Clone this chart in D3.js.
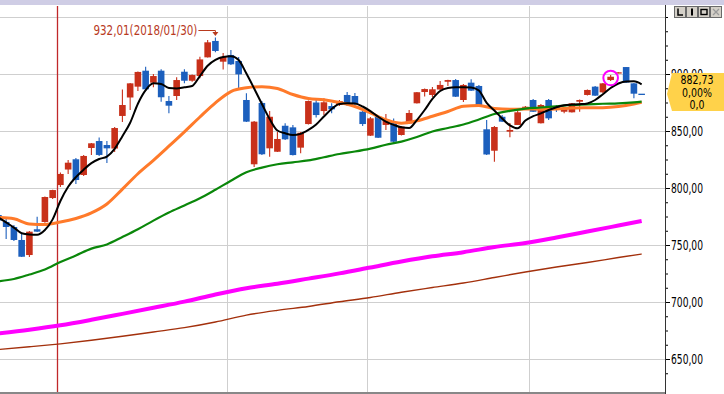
<!DOCTYPE html>
<html lang="ko">
<head>
<meta charset="UTF-8">
<title>KOSDAQ 일봉</title>
<style>
  html, body { margin: 0; padding: 0; background: #fff; }
  svg { display: block; }
  text { font-family: "Liberation Sans Narrow", "DejaVu Sans Condensed", "Liberation Sans", Arial, sans-serif; }
</style>
</head>
<body>
<svg id="svg"></svg>
<script src="https://d3js.org/d3.v7.min.js"></script>
<script>
// 거래일 (2017/12/18 ~ 2018/04/20)
const dates = [
  "2017/12/18","2017/12/19","2017/12/20","2017/12/21","2017/12/22","2017/12/26","2017/12/27","2017/12/28",
  "2018/01/02","2018/01/03","2018/01/04","2018/01/05","2018/01/08","2018/01/09","2018/01/10","2018/01/11",
  "2018/01/12","2018/01/15","2018/01/16","2018/01/17","2018/01/18","2018/01/19","2018/01/22","2018/01/23",
  "2018/01/24","2018/01/25","2018/01/26","2018/01/29","2018/01/30","2018/01/31",
  "2018/02/01","2018/02/02","2018/02/05","2018/02/06","2018/02/07","2018/02/08","2018/02/09","2018/02/12",
  "2018/02/13","2018/02/14","2018/02/19","2018/02/20","2018/02/21","2018/02/22","2018/02/23","2018/02/26",
  "2018/02/27","2018/02/28",
  "2018/03/02","2018/03/05","2018/03/06","2018/03/07","2018/03/08","2018/03/09","2018/03/12","2018/03/13",
  "2018/03/14","2018/03/15","2018/03/16","2018/03/19","2018/03/20","2018/03/21","2018/03/22","2018/03/23",
  "2018/03/26","2018/03/27","2018/03/28","2018/03/29","2018/03/30",
  "2018/04/02","2018/04/03","2018/04/04","2018/04/05","2018/04/06","2018/04/09","2018/04/10","2018/04/11",
  "2018/04/12","2018/04/13","2018/04/16","2018/04/17","2018/04/18","2018/04/19","2018/04/20"
];

// 시가 / 고가 / 저가 / 종가
const open = [
  776.3,770.2,765.8,754.4,741.2,763.8,770.2,791.2,802.6,816.2,825.2,811.4,835.1,841.2,837.7,834.6,
  863.2,879.4,888.9,902.9,892.4,902.9,876.3,880.7,902.0,894.1,898.2,914.6,929.0,910.8,
  916.7,911.4,877.2,820.8,874.6,834.8,831.8,854.6,853.2,835.4,856.1,875.0,867.5,871.9,872.8,881.6,880.7,866.9,
  845.9,862.5,855.3,856.8,846.5,856.6,874.3,884.2,881.6,886.4,893.2,894.7,877.2,892.4,889.5,851.5,832.7,
  862.5,849.4,855.3,869.3,
  877.2,856.8,877.2,871.3,866.9,866.4,875.7,881.6,888.9,883.9,894.7,900.6,906.1,891.8,882.73
];
const high = [
  777.5,773.7,767.5,759.6,762.3,774.8,792.5,798.5,813.6,824.6,826.3,829.0,839.5,844.3,841.2,853.5,
  886.4,892.1,902.2,906.4,900.0,904.1,880.7,897.1,904.1,899.6,915.2,929.8,932.01,918.4,
  921.0,915.0,883.1,858.8,876.3,867.5,849.1,856.8,855.3,849.1,876.8,878.7,878.7,874.3,877.2,884.2,883.3,868.4,
  862.3,864.0,864.9,861.0,854.4,868.4,884.2,887.3,888.6,893.9,894.9,895.6,891.2,895.4,890.4,859.6,854.4,
  864.0,857.0,867.5,871.9,
  878.0,873.7,878.0,872.8,869.7,874.6,877.6,886.4,889.5,892.1,899.1,901.5,906.1,892.1,882.73
];
const low = [
  770.5,755.3,753.5,739.5,739.5,761.4,769.5,790.4,800.9,812.3,803.5,810.5,829.0,828.0,821.9,831.6,
  857.9,868.4,885.1,885.4,888.3,875.7,865.5,877.2,891.8,893.2,896.3,914.5,919.0,904.0,
  907.9,887.5,857.9,818.4,828.9,827.5,831.6,842.1,828.5,830.4,855.7,861.8,864.0,865.5,871.9,871.9,872.8,854.4,
  845.6,843.9,850.9,840.4,846.1,856.1,874.1,880.3,879.8,885.9,889.5,879.8,875.4,885.1,871.1,828.9,823.1,
  857.9,844.5,855.3,868.4,
  866.7,856.6,859.6,866.7,865.5,866.2,866.9,881.1,880.7,883.3,893.9,900.6,892.1,878.7,882.73
];
const close = [
  771.5,765.8,754.4,739.7,761.7,761.7,792.1,798.2,812.3,822.2,807.0,828.1,839.2,829.0,834.8,852.6,
  872.8,891.8,901.8,886.6,898.2,879.6,872.2,894.7,894.1,899.1,912.8,927.8,920.2,915.0,
  908.5,899.7,858.2,858.2,829.6,862.5,843.0,842.7,828.9,848.5,876.3,864.0,875.2,869.0,876.3,873.7,873.7,856.1,
  861.1,844.1,860.5,840.6,853.8,865.8,884.0,886.8,886.6,890.4,894.7,880.1,890.4,885.4,871.9,829.4,853.5,
  858.2,850.9,866.4,871.3,
  866.9,872.8,861.1,868.4,869.3,874.3,877.2,886.0,881.0,891.8,897.6,901.5,892.5,882.73,882.73
];

// 이동평균 5일 (일자별)
const ma5 = [
  774.1,769.8,765.3,760.3,759.2,759.0,763.2,772.5,788.6,801.1,
  809.5,816.1,821.8,825.4,827.6,834.4,845.4,857.2,873.9,885.8,
  891.8,891.2,887.7,887.3,888.4,889.5,898.2,907.2,912.3,914.9,
  915.5,912.3,900.4,887.3,873.7,860.5,850.4,848.0,846.5,847.5,
  850.9,855.7,862.7,869.3,873.7,874.3,874.1,871.5,867.5,862.5,
  858.3,855.4,853.2,852.6,859.6,868.4,878.1,885.1,887.8,888.3,
  888.3,888.2,885.5,874.6,868.0,861.0,855.0,852.4,859.2,863.0,
  865.4,868.4,870.9,872.6,873.2,873.5,874.2,877.2,882.3,887.7,
  891.7,893.5,893.6,891.0
];
// 이동평균 20/60/120/240일: [일자 번호, 값]
const ma20 = [
  [0,774.1],[2,773.0],[4,768.5],[6,768.0],[8,770.1],[10,773.3],[12,778.2],[14,786.0],[16,799.0],
  [18,812.5],[20,824.3],[22,836.7],[24,849.3],[26,862.3],[28,874.7],[30,884.6],[32,887.9],[34,888.9],
  [36,887.3],[38,882.0],[40,878.5],[42,877.4],[44,875.0],[46,871.5],[48,865.9],[50,859.9],[52,856.8],
  [54,858.9],[56,862.9],[58,867.1],[60,871.7],[62,872.4],[64,869.7],[66,869.0],[68,869.3],[70,869.1],
  [72,869.3],[74,870.2],[76,870.4],[78,870.5],[80,871.5],[82,873.7],[83,875.2]
];
const ma60 = [
  [0,718.2],[2,720.2],[4,724.1],[6,728.5],[8,735.1],[10,740.8],[12,746.8],[14,750.5],[16,757.0],
  [18,763.8],[20,771.4],[22,778.5],[24,784.7],[26,791.0],[28,798.5],[30,806.4],[32,813.8],[34,817.9],
  [36,820.8],[38,822.5],[40,824.2],[42,827.0],[44,829.8],[46,832.0],[48,834.6],[50,837.9],[52,840.7],
  [54,844.7],[56,849.6],[58,852.6],[60,855.7],[62,860.1],[64,864.9],[66,867.7],[68,869.7],[70,870.6],
  [72,871.7],[74,872.8],[76,873.3],[78,873.9],[80,874.3],[82,875.1],[83,875.7]
];
const ma120 = [
  [0,672.4],[4,675.7],[8,679.6],[12,684.4],[16,689.6],[20,694.9],[24,700.3],[28,706.6],[32,712.1],
  [36,716.0],[40,720.5],[44,725.1],[48,730.3],[52,735.5],[56,740.1],[60,743.7],[64,748.2],[68,751.8],
  [72,756.6],[76,761.8],[80,767.1],[83,771.1]
];
const ma240 = [
  [0,658.3],[4,660.7],[8,663.3],[12,666.4],[16,669.9],[20,673.7],[24,677.5],[28,682.5],[32,688.5],
  [36,692.7],[40,696.1],[44,700.2],[48,704.0],[52,708.6],[56,712.7],[60,716.7],[64,721.5],[68,726.3],
  [72,730.7],[76,734.6],[80,739.0],[83,742.1]
];

// 눈금
const gridValues = [650, 700, 750, 800, 850, 900, 950];
const labelValues = [650, 700, 750, 800, 850, 900];
const markedDate = "2018/04/16";

const width = 724, height = 394;
const plot = {left: 0, right: 665, top: 5, bottom: 393};
const upColor = "#c8301a", downColor = "#1c5fbd";

const svg = d3.select("#svg").attr("width", width).attr("height", height)
  .attr("viewBox", `0 0 ${width} ${height}`);

svg.append("rect").attr("width", width).attr("height", height).attr("fill", "#fff");

const N = dates.length;
const x = d3.scalePoint().domain(dates).range([-1.6, -1.6 + (N - 1) * 7.75]);
const y = d3.scaleLinear().domain([650, 950]).range([359, 17]);

svg.append("clipPath").attr("id", "clip").append("rect")
  .attr("x", plot.left).attr("y", plot.top)
  .attr("width", plot.right - plot.left).attr("height", plot.bottom - plot.top);

const main = svg.append("g").attr("clip-path", "url(#clip)");

// 가로 격자
main.append("g").selectAll("line").data(gridValues).join("line")
  .attr("x1", plot.left).attr("x2", plot.right)
  .attr("y1", d => Math.round(y(d)) + 0.5).attr("y2", d => Math.round(y(d)) + 0.5)
  .attr("stroke", "#cfcfcf");

// 월 구분선 / 연도 구분선
const breaks = [];
for (let i = 1; i < N; i++) {
  const a = dates[i - 1], b = dates[i];
  if (a.slice(0, 7) !== b.slice(0, 7)) {
    breaks.push({pos: (x(a) + x(b)) / 2, year: a.slice(0, 4) !== b.slice(0, 4)});
  }
}
main.append("g").selectAll("line").data(breaks).join("line")
  .attr("x1", d => Math.round(d.pos) + 0.5).attr("x2", d => Math.round(d.pos) + 0.5)
  .attr("y1", plot.top + 1).attr("y2", plot.bottom)
  .attr("stroke", d => d.year ? "#c0282a" : "#cfcfcf")
  .attr("stroke-width", d => d.year ? 1.3 : 1);

// 캔들
const candles = dates.map((d, i) => ({date: d, o: open[i], h: high[i], l: low[i], c: close[i]}));
const cg = main.append("g").selectAll("g").data(candles).join("g")
  .attr("fill", d => d.c > d.o ? upColor : downColor)
  .attr("stroke", d => d.c > d.o ? upColor : downColor);
cg.append("line")
  .attr("x1", d => x(d.date)).attr("x2", d => x(d.date))
  .attr("y1", d => y(d.h)).attr("y2", d => y(d.l))
  .attr("stroke-width", 1.1);
cg.append("rect")
  .attr("x", d => x(d.date) - 3.3)
  .attr("width", 6.6)
  .attr("y", d => y(Math.max(d.o, d.c)))
  .attr("height", d => Math.max(1.3, Math.abs(y(d.o) - y(d.c))))
  .attr("stroke", "none");

// 이동평균선
const linePts = d3.line().x(d => x(dates[d[0]])).y(d => y(d[1])).curve(d3.curveMonotoneX);
const maLines = [
  {pts: ma240, color: "#a3300c", w: 1.4},
  {pts: ma120, color: "#ff00ff", w: 4},
  {pts: ma20, color: "#ff7a2a", w: 3},
  {pts: ma60, color: "#0a870a", w: 2.2},
  {pts: ma5.map((v, i) => [i, v]), color: "#000", w: 2}
];
main.append("g").selectAll("path").data(maLines).join("path")
  .attr("d", d => linePts(d.pts))
  .attr("fill", "none")
  .attr("stroke", d => d.color)
  .attr("stroke-width", d => d.w)
  .attr("stroke-linejoin", "round");

// 표시된 캔들 원
const mi = dates.indexOf(markedDate);
main.append("circle")
  .attr("cx", x(markedDate)).attr("cy", y((high[mi] + low[mi]) / 2))
  .attr("r", 7.3).attr("fill", "none").attr("stroke", "#ff00ff").attr("stroke-width", 2);

// 최고가 표시
const hi = d3.maxIndex(high);
const hx = x(dates[hi]), hy = y(high[hi]);
const fmt = d3.formatLocale({decimal: ",", thousands: ".", grouping: [3], currency: ["", ""]});
const f2 = fmt.format(".2f"), f1 = fmt.format(".1f");
const annoColor = "#b83a1e";
main.append("text")
  .attr("x", hx - 18).attr("y", hy - 2.5)
  .attr("text-anchor", "end")
  .attr("font-size", 14).attr("fill", annoColor)
  .attr("textLength", 104).attr("lengthAdjust", "spacingAndGlyphs")
  .text(`${f2(high[hi])}(${dates[hi]})`);
main.append("path")
  .attr("d", `M${hx - 17},${hy - 7}H${hx}V${hy - 4}`)
  .attr("fill", "none").attr("stroke", annoColor).attr("stroke-width", 1);
main.append("path")
  .attr("d", `M${hx - 3},${hy - 5.5}L${hx + 3},${hy - 5.5}L${hx},${hy - 1.5}Z`)
  .attr("fill", annoColor);

// 아래 테두리
svg.append("line").attr("x1", 0).attr("x2", plot.right)
  .attr("y1", plot.bottom).attr("y2", plot.bottom)
  .attr("stroke", "#888").attr("stroke-width", 2);

// 오른쪽 축
const axisG = svg.append("g").attr("transform", `translate(${plot.right},0)`);
axisG.append("g")
  .call(d3.axisRight(y).tickValues(d3.range(637.5, 951, 12.5)).tickSize(3).tickFormat(""))
  .call(g => g.select(".domain").remove())
  .call(g => g.selectAll("line").attr("stroke", "#000"));
axisG.append("g")
  .call(d3.axisRight(y).tickValues(labelValues).tickSize(5).tickPadding(1).tickFormat(f2))
  .call(g => g.select(".domain").remove())
  .call(g => g.selectAll("line").attr("stroke", "#000"))
  .call(g => g.selectAll("text")
    .attr("font-size", 14).attr("fill", "#000")
    .attr("font-family", "'Liberation Sans Narrow', 'DejaVu Sans Condensed', 'Liberation Sans', sans-serif")
    .attr("textLength", 32).attr("lengthAdjust", "spacingAndGlyphs"));
svg.append("line")
  .attr("x1", plot.right + 0.5).attr("x2", plot.right + 0.5)
  .attr("y1", plot.top).attr("y2", height)
  .attr("stroke", "#333");

// 현재가 박스 (축 눈금 위를 덮음)
const last = close[N - 1], prev = close[N - 2];
const yc = Math.round(y(last));
svg.append("path")
  .attr("d", `M667,${yc}L672,${yc - 21}H${width}V${yc + 17}H672Z`)
  .attr("fill", "#ffd24a");
const boxTexts = [
  {t: f2(last), dy: -10, w: 33},
  {t: f2((last - prev) / prev * 100) + "%", dy: 2.5, w: 30},
  {t: f1(last - prev), dy: 15, w: 15}
];
svg.append("g").selectAll("text").data(boxTexts).join("text")
  .attr("x", 697).attr("y", d => yc + d.dy)
  .attr("text-anchor", "middle")
  .attr("font-size", 11.5).attr("fill", "#000")
  .attr("textLength", d => d.w).attr("lengthAdjust", "spacingAndGlyphs")
  .text(d => d.t);

// 상단 띠
svg.append("rect").attr("x", 0).attr("y", 0).attr("width", width).attr("height", 5).attr("fill", "#cfcde5");

// 창 버튼
const btns = ["L", "I", "box", "X"];
const bg = svg.append("g").selectAll("g").data(btns).join("g")
  .attr("transform", (d, i) => `translate(${674.5 + i * 12},6.5)`);
bg.append("rect").attr("width", 11).attr("height", 11)
  .attr("fill", "#d4d0c8").attr("stroke", "#6a6a6a");
bg.each(function(d) {
  const g = d3.select(this);
  if (d === "L") g.append("path").attr("d", "M3.5,2V8.5H8.5").attr("fill", "none").attr("stroke", "#000").attr("stroke-width", 1.5);
  if (d === "I") g.append("path").attr("d", "M5.5,2V9").attr("fill", "none").attr("stroke", "#000").attr("stroke-width", 2);
  if (d === "box") g.append("rect").attr("x", 2.5).attr("y", 3).attr("width", 6).attr("height", 5)
    .attr("fill", "none").attr("stroke", "#000").attr("stroke-width", 1.4);
  if (d === "X") g.append("path").attr("d", "M2.5,2.5L8.5,8.5M8.5,2.5L2.5,8.5").attr("stroke", "#9a9a9a").attr("stroke-width", 1.3);
});
</script>
</body>
</html>
